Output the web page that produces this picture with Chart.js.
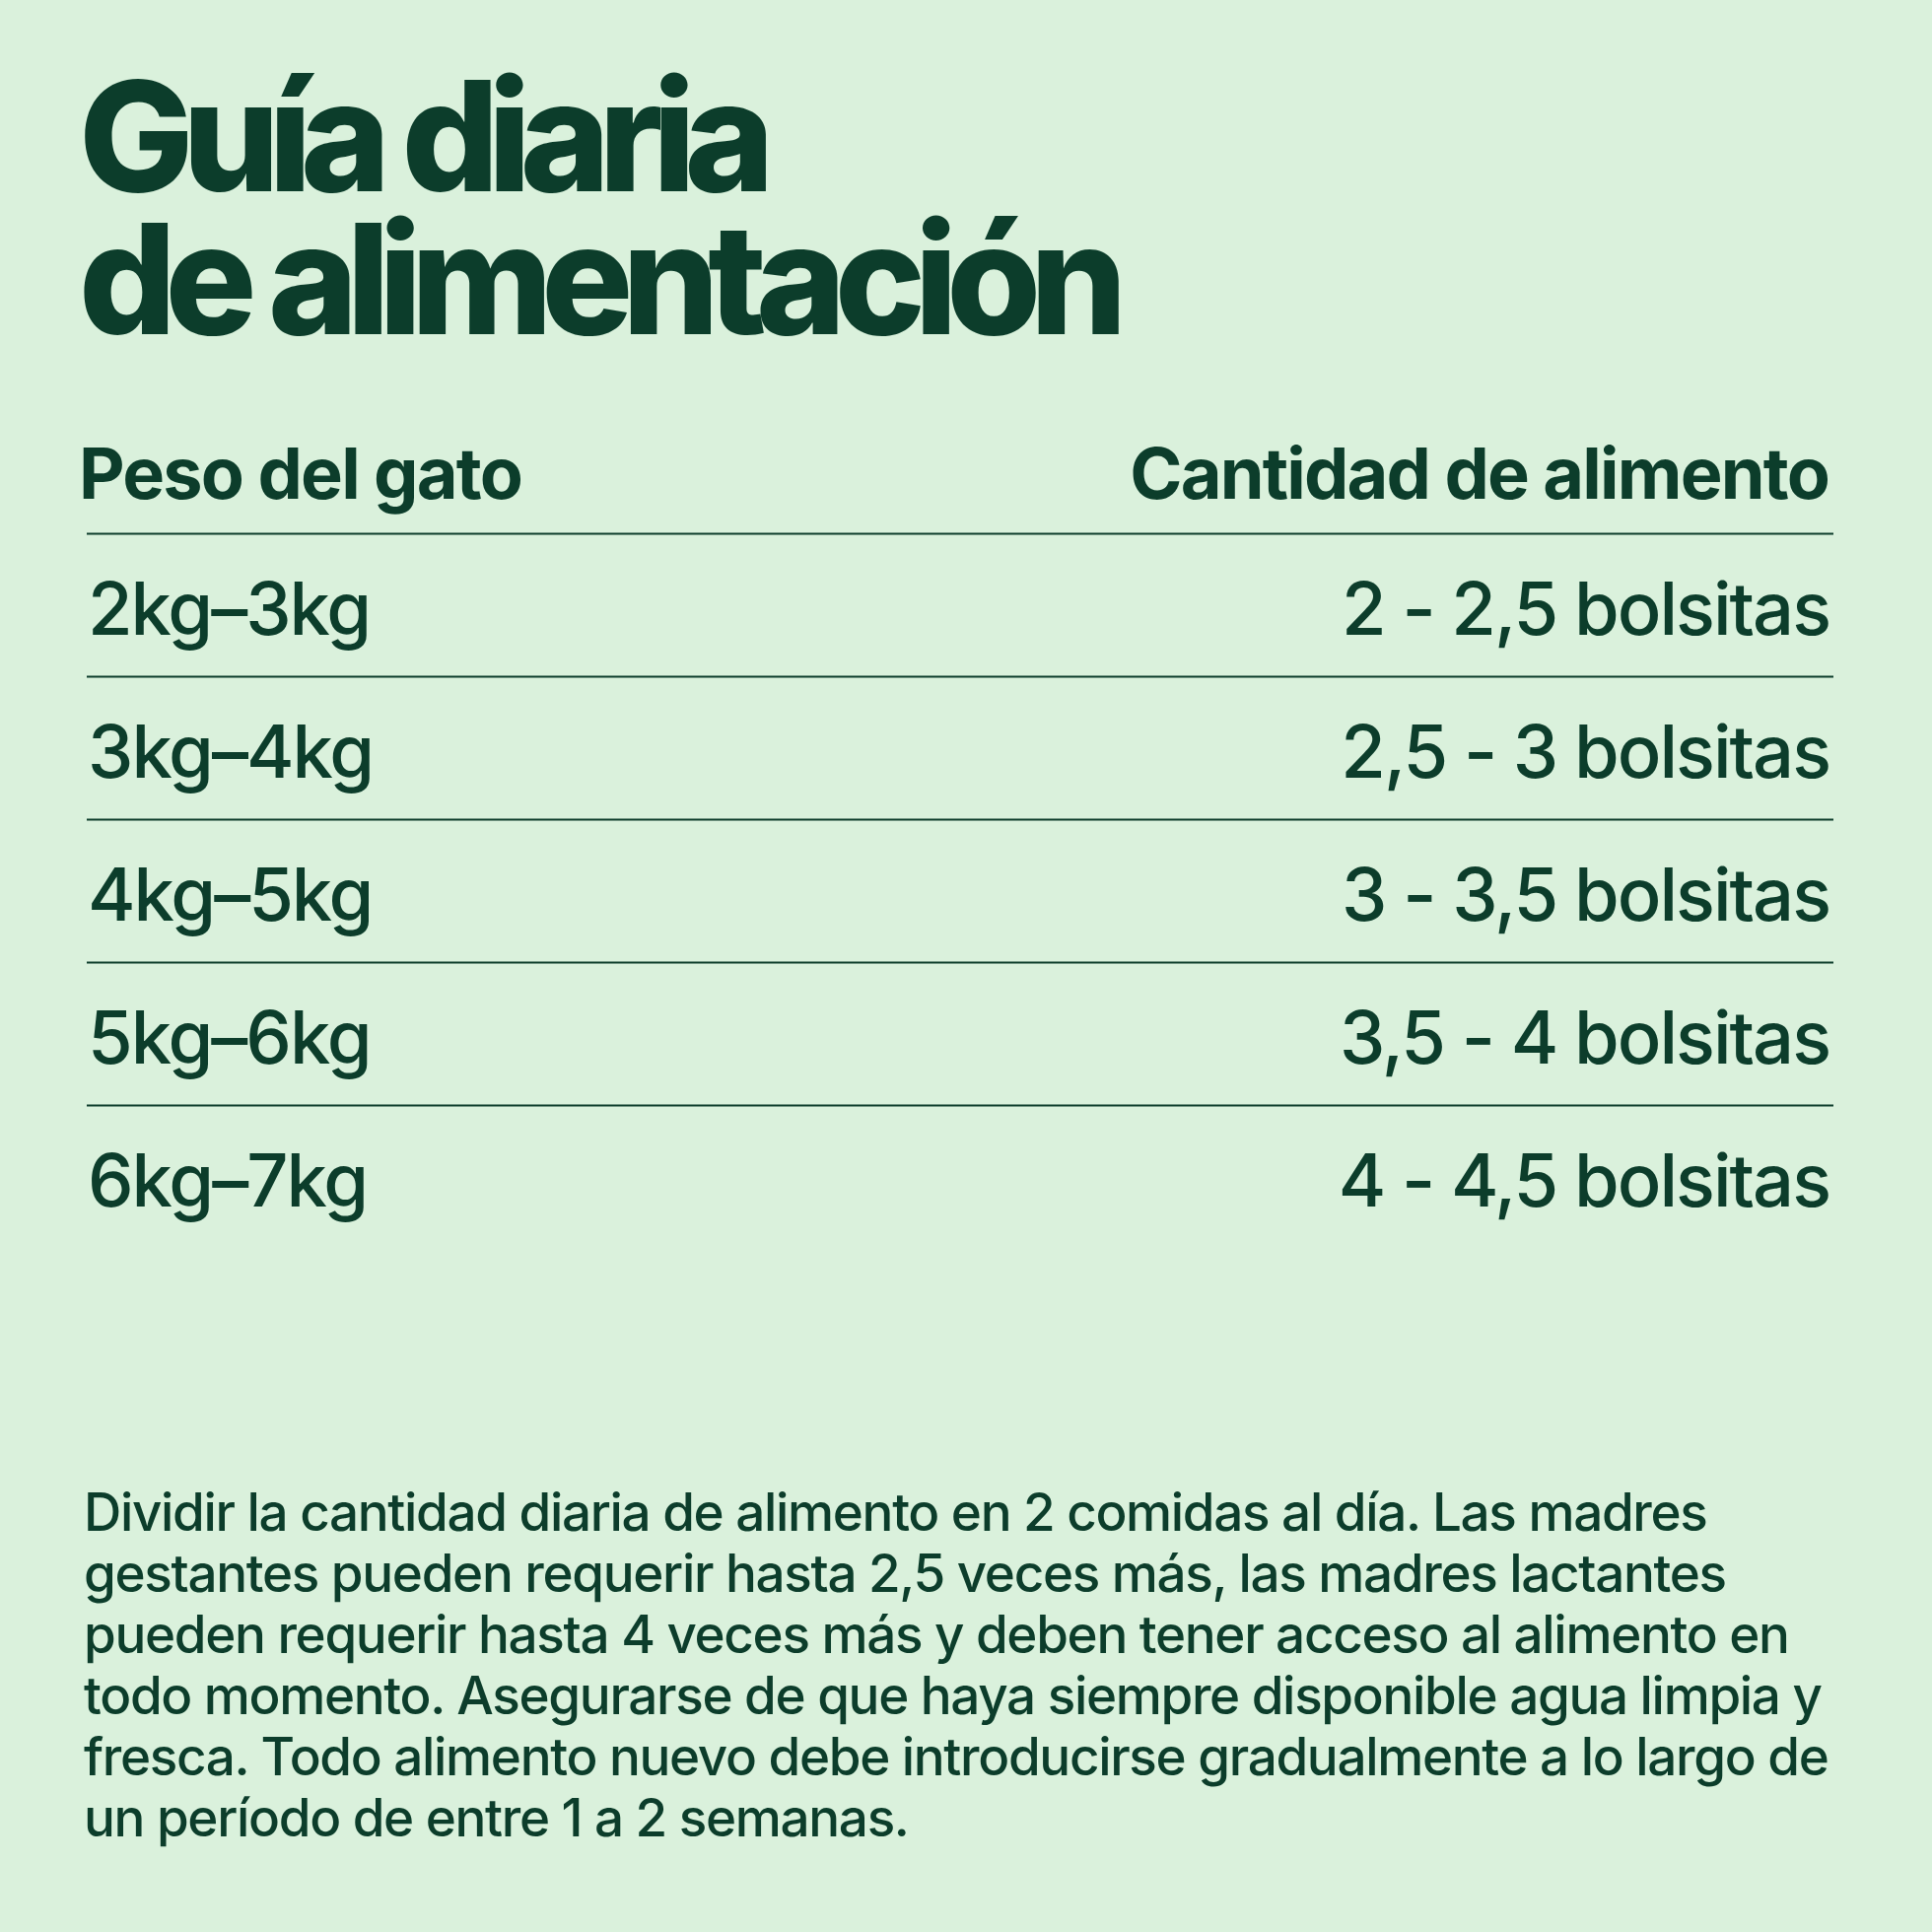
<!DOCTYPE html>
<html><head><meta charset="utf-8">
<script src="https://cdn.jsdelivr.net/npm/chart.js@4/dist/chart.umd.min.js"></script>
<style>
html,body{margin:0;padding:0;background:#daf1dc;width:1960px;height:1960px;overflow:hidden;font-family:Inter,sans-serif;color:#0c3d2b}
#c{position:absolute;left:0;top:0}
.t{position:absolute;left:80px;top:65px;font-size:155px;font-weight:800;line-height:145px;letter-spacing:-0.073em;margin:0}
.h{position:absolute;top:444px;font-size:72px;font-weight:700;line-height:72px;letter-spacing:-0.025em}
.f{position:absolute;left:85px;top:1503px;width:1800px;font-size:53px;font-weight:500;line-height:62px;letter-spacing:-0.025em}
</style></head><body>
<canvas id="c" width="1960" height="1960"></canvas>
<h1 class="t">Guía diaria<br>de alimentación</h1>
<div class="h" style="left:80px">Peso del gato</div>
<div class="h" style="right:105px">Cantidad de alimento</div>
<div class="f">Dividir la cantidad diaria de alimento en 2 comidas al día. Las madres gestantes pueden requerir hasta 2,5 veces más, las madres lactantes pueden requerir hasta 4 veces más y deben tener acceso al alimento en todo momento. Asegurarse de que haya siempre disponible agua limpia y fresca. Todo alimento nuevo debe introducirse gradualmente a lo largo de un período de entre 1 a 2 semanas.</div>
<script>
const weights = ["2kg–3kg","3kg–4kg","4kg–5kg","5kg–6kg","6kg–7kg"];
const amounts = ["2 - 2,5 bolsitas","2,5 - 3 bolsitas","3 - 3,5 bolsitas","3,5 - 4 bolsitas","4 - 4,5 bolsitas"];
const ink = "#0c3d2b";
const rowText = {
  id:'rowText',
  afterDraw(chart){
    const ctx=chart.ctx, y=chart.scales.y, a=chart.chartArea;
    ctx.save();
    ctx.strokeStyle=ink; ctx.lineWidth=2;
    weights.forEach((w,i)=>{
      const ly=Math.round(y.getPixelForValue(i-0.5))+0.5;
      ctx.beginPath(); ctx.moveTo(a.left,ly); ctx.lineTo(a.right,ly); ctx.stroke();
    });
    ctx.fillStyle=ink;
    ctx.font='500 74px Inter';
    ctx.letterSpacing='-2px';
    ctx.textBaseline='middle';
    weights.forEach((w,i)=>{
      const py=y.getPixelForValue(i)+8;
      ctx.textAlign='left'; ctx.fillText(w,a.left+1,py);
      ctx.textAlign='right'; ctx.fillText(amounts[i],a.right-4,py);
    });
    ctx.restore();
  }
};
new Chart(document.getElementById('c'),{
  type:'scatter',
  data:{labels:weights,datasets:[{data:[]}]},
  options:{
    responsive:false,animation:false,devicePixelRatio:1,
    layout:{padding:{left:80,right:100,top:541,bottom:694}},
    plugins:{legend:{display:false},tooltip:{enabled:false}},
    scales:{
      x:{display:false,min:0,max:1},
      y:{type:'category',labels:weights,offset:true,
        grid:{display:false},ticks:{display:false},border:{display:false}}
    }
  },
  plugins:[rowText]
});
</script>
</body></html>
